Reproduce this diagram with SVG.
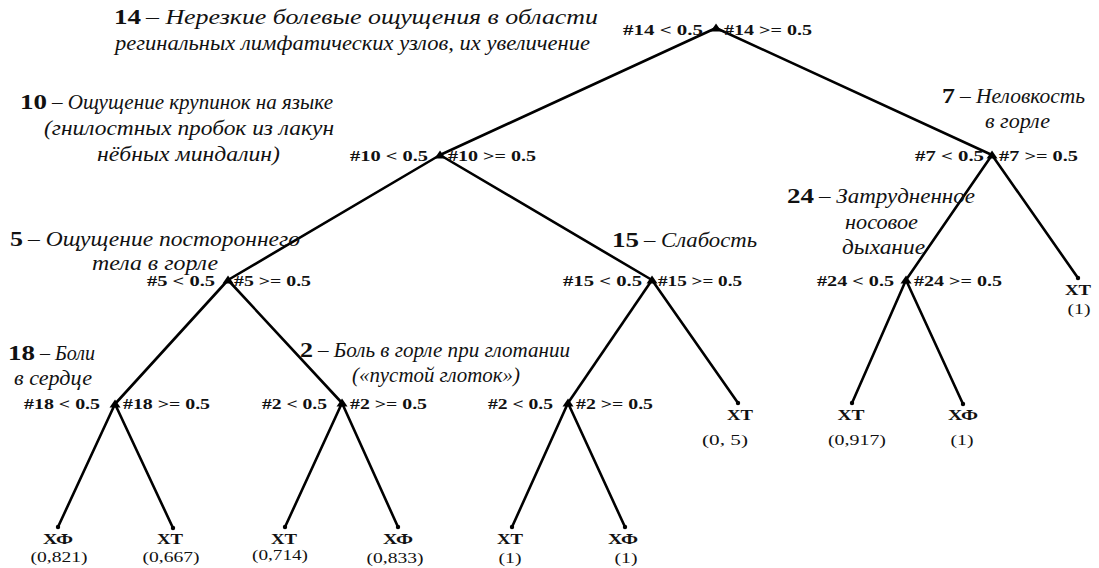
<svg xmlns="http://www.w3.org/2000/svg" xmlns:xlink="http://www.w3.org/1999/xlink" width="1099" height="568" viewBox="0 0 1099 568">
<style>
.e{stroke:#000;stroke-width:2.6;fill:none;stroke-linecap:round}
.c{font-family:"Liberation Serif",serif;font-weight:bold;font-size:14.5px;fill:#111}
.n{font-family:"Liberation Serif",serif;font-weight:bold;font-size:20px;fill:#111}
.i{font-family:"Liberation Serif",serif;font-style:italic;font-size:20px;fill:#111}
.l{font-family:"Liberation Serif",serif;font-weight:bold;font-size:14.5px;fill:#111;text-anchor:middle}
.v{font-family:"Liberation Serif",serif;font-size:14.5px;fill:#111;text-anchor:middle}
.r{text-anchor:end}
</style>
<defs>
<path id="tri" d="M-5.5,3.5 L0,-4.5 L5.5,3.5 Z" fill="#000"/>
<circle id="dot" r="2.2" fill="#000"/>
</defs>
<rect width="1099" height="568" fill="#fff"/>
<g id="connectors">
<line class="e" x1="716" y1="28" x2="440" y2="155"/>
<line class="e" x1="716" y1="28" x2="992" y2="155"/>
<line class="e" x1="440" y1="155" x2="228" y2="280"/>
<line class="e" x1="440" y1="155" x2="652" y2="280"/>
<line class="e" x1="992" y1="155" x2="906" y2="280"/>
<line class="e" x1="992" y1="155" x2="1078" y2="278"/>
<line class="e" x1="228" y1="280" x2="115" y2="404"/>
<line class="e" x1="228" y1="280" x2="342" y2="403"/>
<line class="e" x1="652" y1="280" x2="568" y2="403"/>
<line class="e" x1="652" y1="280" x2="738" y2="403"/>
<line class="e" x1="906" y1="280" x2="852" y2="403"/>
<line class="e" x1="906" y1="280" x2="963" y2="404"/>
<line class="e" x1="115" y1="404" x2="58" y2="527"/>
<line class="e" x1="115" y1="404" x2="173" y2="528"/>
<line class="e" x1="342" y1="403" x2="285" y2="527"/>
<line class="e" x1="342" y1="403" x2="398" y2="527"/>
<line class="e" x1="568" y1="403" x2="512" y2="527"/>
<line class="e" x1="568" y1="403" x2="625" y2="527"/>
</g>
<g id="n14">
<use xlink:href="#tri" x="716" y="28"/>
<text class="n" x="114" y="24" textLength="27" lengthAdjust="spacingAndGlyphs">14</text>
<text class="i" x="146" y="24" textLength="452" lengthAdjust="spacingAndGlyphs">– Нерезкие болевые ощущения в области</text>
<text class="i" x="115" y="50" textLength="475" lengthAdjust="spacingAndGlyphs">регинальных лимфатических узлов, их увеличение</text>
<text class="c r" x="703" y="35" textLength="80" lengthAdjust="spacingAndGlyphs">#14 &lt; 0.5</text>
<text class="c" x="724" y="35" textLength="88" lengthAdjust="spacingAndGlyphs">#14 &gt;= 0.5</text>
</g>
<g id="n10">
<use xlink:href="#tri" x="440" y="155"/>
<text class="n" x="20" y="109" textLength="27" lengthAdjust="spacingAndGlyphs">10</text>
<text class="i" x="52" y="109" textLength="281" lengthAdjust="spacingAndGlyphs">– Ощущение крупинок на языке</text>
<text class="i" x="44" y="135" textLength="290" lengthAdjust="spacingAndGlyphs">(гнилостных пробок из лакун</text>
<text class="i" x="97" y="161" textLength="183" lengthAdjust="spacingAndGlyphs">нёбных миндалин)</text>
<text class="c r" x="428" y="161" textLength="78" lengthAdjust="spacingAndGlyphs">#10 &lt; 0.5</text>
<text class="c" x="448" y="161" textLength="88" lengthAdjust="spacingAndGlyphs">#10 &gt;= 0.5</text>
</g>
<g id="n7">
<use xlink:href="#tri" x="992" y="155"/>
<text class="n" x="942" y="103" textLength="13" lengthAdjust="spacingAndGlyphs">7</text>
<text class="i" x="960" y="103" textLength="125" lengthAdjust="spacingAndGlyphs">– Неловкость</text>
<text class="i" x="985" y="128" textLength="65" lengthAdjust="spacingAndGlyphs">в горле</text>
<text class="c r" x="984" y="161" textLength="69" lengthAdjust="spacingAndGlyphs">#7 &lt; 0.5</text>
<text class="c" x="999" y="161" textLength="79" lengthAdjust="spacingAndGlyphs">#7 &gt;= 0.5</text>
</g>
<g id="n5">
<use xlink:href="#tri" x="228" y="280"/>
<text class="n" x="10" y="246" textLength="13" lengthAdjust="spacingAndGlyphs">5</text>
<text class="i" x="28" y="246" textLength="272" lengthAdjust="spacingAndGlyphs">– Ощущение постороннего</text>
<text class="i" x="92" y="270" textLength="126" lengthAdjust="spacingAndGlyphs">тела в горле</text>
<text class="c r" x="215" y="286" textLength="68" lengthAdjust="spacingAndGlyphs">#5 &lt; 0.5</text>
<text class="c" x="234" y="286" textLength="77" lengthAdjust="spacingAndGlyphs">#5 &gt;= 0.5</text>
</g>
<g id="n15">
<use xlink:href="#tri" x="652" y="280"/>
<text class="n" x="612" y="247" textLength="27" lengthAdjust="spacingAndGlyphs">15</text>
<text class="i" x="644" y="247" textLength="113" lengthAdjust="spacingAndGlyphs">– Слабость</text>
<text class="c r" x="642" y="286" textLength="79" lengthAdjust="spacingAndGlyphs">#15 &lt; 0.5</text>
<text class="c" x="658" y="286" textLength="84" lengthAdjust="spacingAndGlyphs">#15 &gt;= 0.5</text>
</g>
<g id="n24">
<use xlink:href="#tri" x="906" y="280"/>
<text class="n" x="787" y="203" textLength="27" lengthAdjust="spacingAndGlyphs">24</text>
<text class="i" x="819" y="203" textLength="156" lengthAdjust="spacingAndGlyphs">– Затрудненное</text>
<text class="i" x="845" y="229" textLength="73" lengthAdjust="spacingAndGlyphs">носовое</text>
<text class="i" x="842" y="254" textLength="83" lengthAdjust="spacingAndGlyphs">дыхание</text>
<text class="c r" x="894" y="286" textLength="77" lengthAdjust="spacingAndGlyphs">#24 &lt; 0.5</text>
<text class="c" x="914" y="286" textLength="88" lengthAdjust="spacingAndGlyphs">#24 &gt;= 0.5</text>
</g>
<g id="n18">
<use xlink:href="#tri" x="115" y="404"/>
<text class="n" x="8" y="360" textLength="27" lengthAdjust="spacingAndGlyphs">18</text>
<text class="i" x="40" y="360" textLength="55" lengthAdjust="spacingAndGlyphs">– Боли</text>
<text class="i" x="14" y="385" textLength="78" lengthAdjust="spacingAndGlyphs">в сердце</text>
<text class="c r" x="100" y="409" textLength="76" lengthAdjust="spacingAndGlyphs">#18 &lt; 0.5</text>
<text class="c" x="123" y="409" textLength="87" lengthAdjust="spacingAndGlyphs">#18 &gt;= 0.5</text>
</g>
<g id="n2a">
<use xlink:href="#tri" x="342" y="403"/>
<text class="n" x="300" y="357" textLength="13" lengthAdjust="spacingAndGlyphs">2</text>
<text class="i" x="318" y="357" textLength="252" lengthAdjust="spacingAndGlyphs">– Боль в горле при глотании</text>
<text class="i" x="352" y="382" textLength="168" lengthAdjust="spacingAndGlyphs">(«пустой глоток»)</text>
<text class="c r" x="327" y="409" textLength="65" lengthAdjust="spacingAndGlyphs">#2 &lt; 0.5</text>
<text class="c" x="350" y="409" textLength="77" lengthAdjust="spacingAndGlyphs">#2 &gt;= 0.5</text>
</g>
<g id="n2b">
<use xlink:href="#tri" x="568" y="403"/>
<text class="c r" x="553" y="409" textLength="65" lengthAdjust="spacingAndGlyphs">#2 &lt; 0.5</text>
<text class="c" x="576" y="409" textLength="77" lengthAdjust="spacingAndGlyphs">#2 &gt;= 0.5</text>
</g>
<g id="leaf1"><use xlink:href="#dot" x="58" y="527"/><text class="l" x="58" y="544" textLength="30" lengthAdjust="spacingAndGlyphs">ХФ</text><text class="v" x="59" y="562" textLength="57" lengthAdjust="spacingAndGlyphs">(0,821)</text></g>
<g id="leaf2"><use xlink:href="#dot" x="173" y="528"/><text class="l" x="170" y="544" textLength="26" lengthAdjust="spacingAndGlyphs">ХТ</text><text class="v" x="171" y="562" textLength="57" lengthAdjust="spacingAndGlyphs">(0,667)</text></g>
<g id="leaf3"><use xlink:href="#dot" x="285" y="527"/><text class="l" x="284" y="544" textLength="26" lengthAdjust="spacingAndGlyphs">ХТ</text><text class="v" x="280" y="560" textLength="56" lengthAdjust="spacingAndGlyphs">(0,714)</text></g>
<g id="leaf4"><use xlink:href="#dot" x="398" y="527"/><text class="l" x="398" y="544" textLength="30" lengthAdjust="spacingAndGlyphs">ХФ</text><text class="v" x="395" y="563" textLength="57" lengthAdjust="spacingAndGlyphs">(0,833)</text></g>
<g id="leaf5"><use xlink:href="#dot" x="512" y="527"/><text class="l" x="510" y="544" textLength="26" lengthAdjust="spacingAndGlyphs">ХТ</text><text class="v" x="510" y="563" textLength="23" lengthAdjust="spacingAndGlyphs">(1)</text></g>
<g id="leaf6"><use xlink:href="#dot" x="625" y="527"/><text class="l" x="623" y="544" textLength="30" lengthAdjust="spacingAndGlyphs">ХФ</text><text class="v" x="626" y="563" textLength="23" lengthAdjust="spacingAndGlyphs">(1)</text></g>
<g id="leaf7"><use xlink:href="#dot" x="738" y="403"/><text class="l" x="740" y="420" textLength="26" lengthAdjust="spacingAndGlyphs">ХТ</text><text class="v" x="725" y="445" textLength="46" lengthAdjust="spacingAndGlyphs">(0, 5)</text></g>
<g id="leaf8"><use xlink:href="#dot" x="852" y="403"/><text class="l" x="851" y="420" textLength="27" lengthAdjust="spacingAndGlyphs">ХТ</text><text class="v" x="857" y="445" textLength="58" lengthAdjust="spacingAndGlyphs">(0,917)</text></g>
<g id="leaf9"><use xlink:href="#dot" x="963" y="404"/><text class="l" x="963" y="420" textLength="30" lengthAdjust="spacingAndGlyphs">ХФ</text><text class="v" x="962" y="445" textLength="23" lengthAdjust="spacingAndGlyphs">(1)</text></g>
<g id="leaf10"><use xlink:href="#dot" x="1078" y="278"/><text class="l" x="1078" y="295" textLength="26" lengthAdjust="spacingAndGlyphs">ХТ</text><text class="v" x="1079" y="314" textLength="23" lengthAdjust="spacingAndGlyphs">(1)</text></g>
</svg>
